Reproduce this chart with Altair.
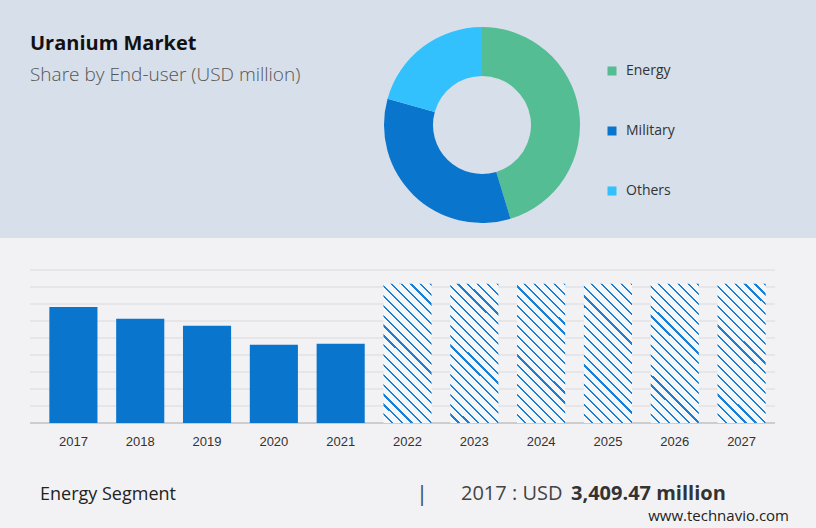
import altair as alt
import pandas as pd

# ---- data ----
segments = ["Energy", "Military", "Others"]
shares = [45.3, 34.0, 20.7]
seg_colors = ["#55bd93", "#0a75cc", "#33c1fe"]

years = ["2017", "2018", "2019", "2020", "2021", "2022", "2023", "2024", "2025", "2026", "2027"]
hist_years = ["2017", "2018", "2019", "2020", "2021"]
hist_values = [3409.47, 3068, 2862, 2303, 2332]
fc_years = ["2022", "2023", "2024", "2025", "2026", "2027"]
fc_values = [4095, 4095, 4095, 4095, 4095, 4095]
grid_values = [500, 1000, 1500, 2000, 2500, 3000, 3500, 4000, 4500]

title = "Uranium Market"
subtitle = "Share by End-user (USD million)"
footer_left = "Energy Segment"
footer_year = "2017 : USD"
footer_value = "3,409.47 million"
source = "www.technavio.com"

W, H = 816, 528
FONT = "Open Sans"
BAR_BLUE = "#0a75cc"

one = pd.DataFrame({"k": [0]})
donut_df = pd.DataFrame({"segment": segments, "share": shares, "idx": list(range(len(segments)))})
hist_df = pd.DataFrame({"year": hist_years, "value": hist_values})
fc_df = pd.DataFrame({"year": fc_years, "value": fc_values})
grid_df = pd.DataFrame({"v": grid_values})
base_df = pd.DataFrame({"v": [0]})
year_df = pd.DataFrame({"year": years})

xscale = alt.Scale(domain=years, range=[40, 775], paddingInner=0.28, paddingOuter=0.14)
yscale = alt.Scale(domain=[0, 4500], range=[423, 270])
X = alt.X("year:N", scale=xscale, axis=None)
Y = alt.Y("value:Q", scale=yscale, axis=None)

# top band
band = alt.Chart(one).mark_rect(color="#d6dfea").encode(
    x=alt.value(0), x2=alt.value(W), y=alt.value(0), y2=alt.value(238)
)

title_t = alt.Chart(pd.DataFrame({"t": [title]})).mark_text(
    font=FONT, fontSize=20, fontWeight="bold", color="#111111", align="left", baseline="alphabetic"
).encode(x=alt.value(30), y=alt.value(50), text="t:N")

sub_t = alt.Chart(pd.DataFrame({"t": [subtitle]})).mark_text(
    font=FONT, fontSize=19, fontWeight=300, color="#555555", align="left", baseline="alphabetic"
).encode(x=alt.value(30), y=alt.value(81), text="t:N")

donut = alt.Chart(donut_df).mark_arc(innerRadius=49, outerRadius=98).encode(
    theta=alt.Theta("share:Q", stack=True),
    order=alt.Order("idx:Q"),
    color=alt.Color(
        "segment:N",
        scale=alt.Scale(domain=segments, range=seg_colors),
        legend=alt.Legend(
            title=None, orient="none", legendX=605, legendY=64,
            symbolType="square", symbolSize=81, symbolStrokeWidth=0,
            labelFont=FONT, labelFontSize=14, labelColor="#333333",
            labelOffset=7, rowPadding=46, padding=0,
        ),
    ),
    x=alt.value(482), y=alt.value(125),
)

grid = alt.Chart(grid_df).mark_rule(color="#dadadd", strokeWidth=1).encode(
    y=alt.Y("v:Q", scale=yscale, axis=None), x=alt.value(30), x2=alt.value(775)
)
baseline = alt.Chart(base_df).mark_rule(color="#a8a8a8", strokeWidth=1).encode(
    y=alt.Y("v:Q", scale=yscale, axis=None), x=alt.value(30), x2=alt.value(775)
)

hist = alt.Chart(hist_df).mark_bar(color=BAR_BLUE).encode(x=X, y=Y)

# diagonal hatch emulated with a hard-stop linear gradient
n = 19
gap = "#f5f6f8"
stops = []
for i in range(n):
    a = i / n
    b = (i + 0.78) / n
    c = (i + 1) / n
    stops += [
        alt.GradientStop(color=gap, offset=a),
        alt.GradientStop(color=gap, offset=b),
        alt.GradientStop(color="#1a7fd4", offset=b),
        alt.GradientStop(color="#1a7fd4", offset=c),
    ]
hatch = alt.LinearGradient(gradient="linear", stops=stops, x1=0, y1=1, x2=0.4145, y2=-0.202)
fc = alt.Chart(fc_df).mark_bar(color=hatch).encode(x=X, y=Y)

labels = alt.Chart(year_df).mark_text(
    font="Liberation Sans", fontSize=13, color="#333333", baseline="middle"
).encode(x=X, y=alt.value(442), text="year:N")

f1 = alt.Chart(pd.DataFrame({"t": [footer_left]})).mark_text(
    font=FONT, fontSize=18, color="#222222", align="left", baseline="alphabetic"
).encode(x=alt.value(40), y=alt.value(500), text="t:N")
fsep = alt.Chart(pd.DataFrame({"t": ["|"]})).mark_text(
    font=FONT, fontSize=21, color="#444444", align="center", baseline="alphabetic"
).encode(x=alt.value(422), y=alt.value(501), text="t:N")
f2 = alt.Chart(pd.DataFrame({"t": [footer_year]})).mark_text(
    font=FONT, fontSize=20, color="#444444", align="left", baseline="alphabetic"
).encode(x=alt.value(461), y=alt.value(500), text="t:N")
f3 = alt.Chart(pd.DataFrame({"t": [footer_value]})).mark_text(
    font=FONT, fontSize=20, fontWeight="bold", color="#333333", align="left", baseline="alphabetic"
).encode(x=alt.value(571), y=alt.value(500), text="t:N")
f4 = alt.Chart(pd.DataFrame({"t": [source]})).mark_text(
    font=FONT, fontSize=15, color="#222222", align="right", baseline="alphabetic"
).encode(x=alt.value(789), y=alt.value(521), text="t:N")

chart = alt.layer(
    band, title_t, sub_t, donut, grid, baseline, hist, fc, labels, f1, fsep, f2, f3, f4
).properties(
    width=W, height=H, padding=0, autosize="none", background="#f2f2f4"
).configure_view(stroke=None)

chart.save("out.html", embed_options={"renderer": "svg", "actions": False})
